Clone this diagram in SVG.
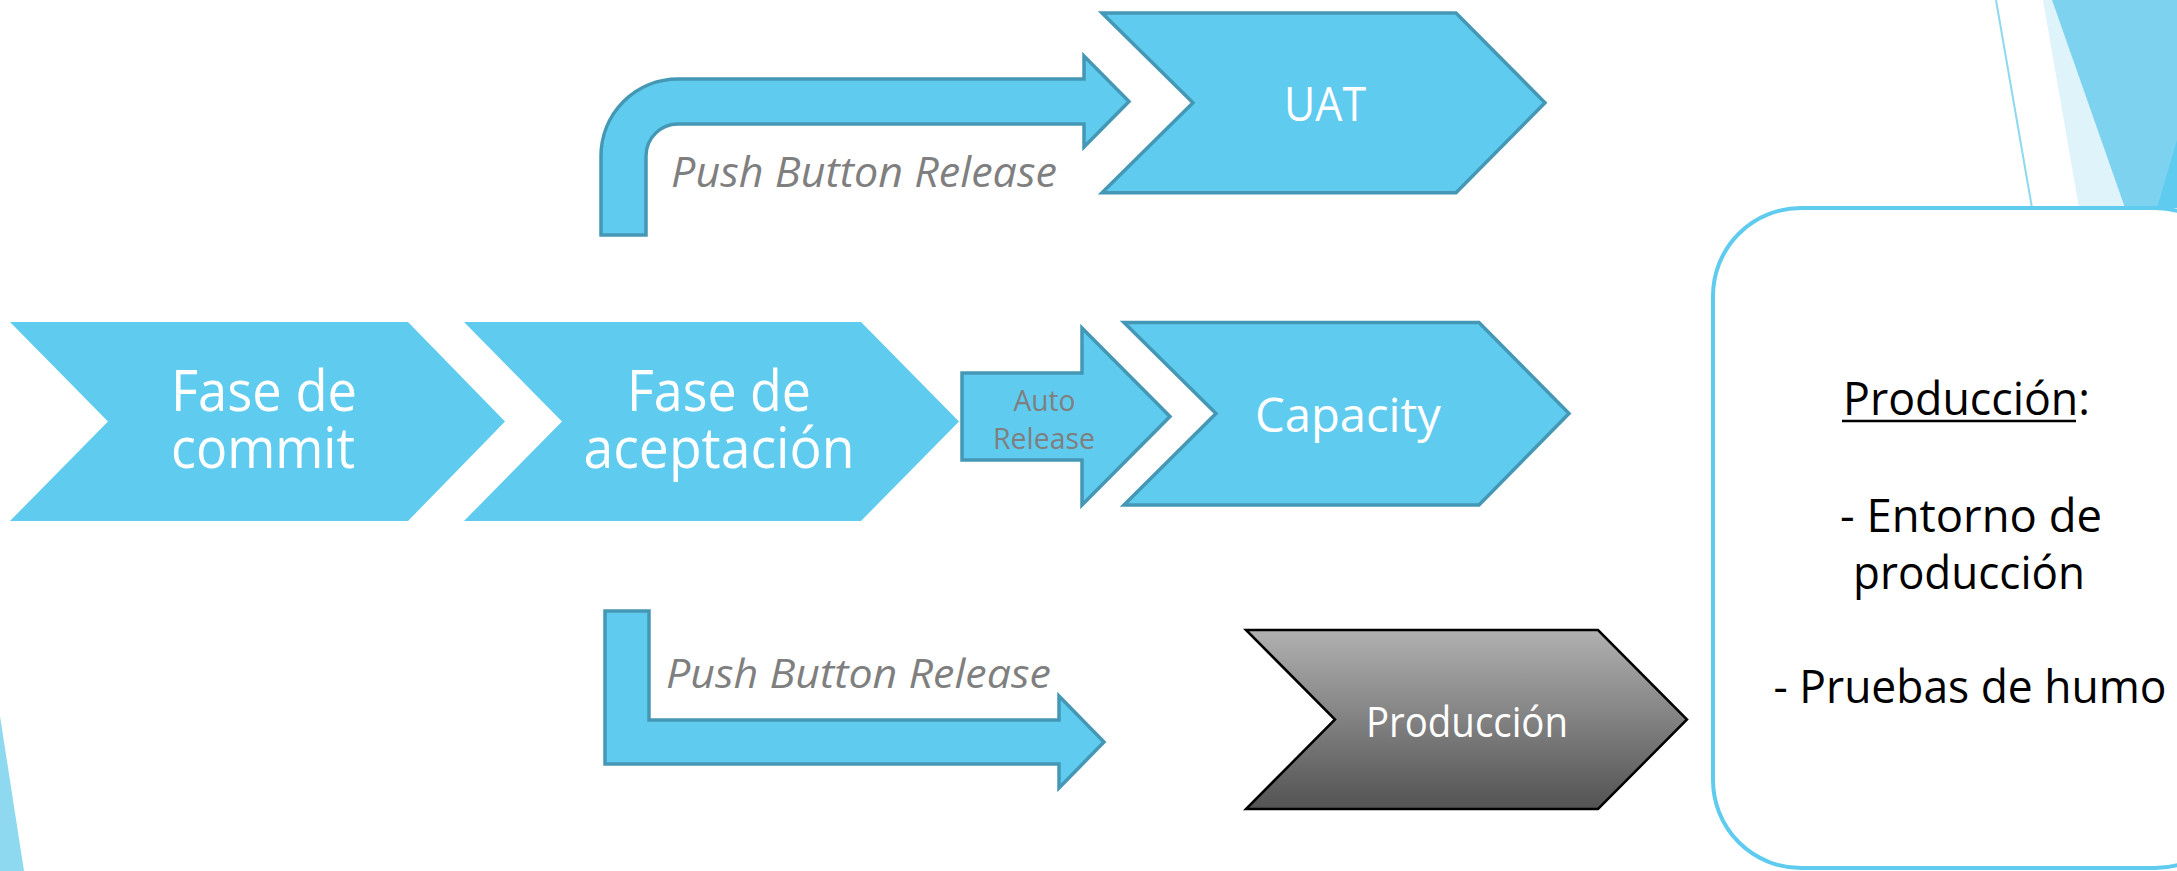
<svg xmlns="http://www.w3.org/2000/svg" width="2177" height="871" viewBox="0 0 2177 871">
  <style>
    .chev { fill: #5FCBEF; }
    .chevs { fill: #5FCBEF; stroke: #4598B5; stroke-width: 3.5; stroke-linejoin: miter; }
    .arrow { fill: #5FCBEF; stroke: #4598B5; stroke-width: 3.5; stroke-linejoin: miter; }
    .wt { fill: #FFFFFF; font-family: "Open Sans", "Liberation Sans", sans-serif; text-anchor: middle; }
    .gt { fill: #7F7F7F; font-family: "Open Sans", "Liberation Sans", sans-serif; }
    .bt { fill: #000000; font-family: "Open Sans", "Liberation Sans", sans-serif; text-anchor: middle; }
  </style>
  <defs>
    <linearGradient id="grey" x1="0" y1="0" x2="0" y2="1">
      <stop offset="0" stop-color="#B0B0B0"/>
      <stop offset="1" stop-color="#535353"/>
    </linearGradient>
  </defs>
  <rect x="0" y="0" width="2177" height="871" fill="#FFFFFF"/>

  <g id="background">
    <polygon points="0,716 24,871 0,871" fill="#8ED8F0"/>
    <line x1="1996" y1="0" x2="2032" y2="208" stroke="#8ED8F0" stroke-width="2"/>
    <polygon points="2043,0 2052,0 2125,208 2079,208" fill="#DFF3FA"/>
    <polygon points="2052,0 2177,0 2177,208 2125,208" fill="#7DD3EF"/>
    <polygon points="2157,208 2177,140 2177,208" fill="#5FCBEF"/>
  </g>

  <g id="connectors">
    <g id="arrow-uat">
      <path class="arrow" d="M601,235 L601,156 A77,77 0 0 1 678,79 L1084,79 L1084,56 L1129,101.5 L1084,147 L1084,124 L678,124 A32,32 0 0 0 646,156 L646,235 Z"/>
      <text class="gt" x="671" y="186.7" font-size="42" font-style="italic" textLength="386" lengthAdjust="spacingAndGlyphs">Push Button Release</text>
    </g>
    <g id="arrow-capacity">
      <path class="arrow" d="M962,373 L1082,373 L1082,328 L1170,416.5 L1082,505 L1082,460 L962,460 Z"/>
      <text class="gt" font-size="29" text-anchor="middle"><tspan x="1044.5" y="411" textLength="62" lengthAdjust="spacingAndGlyphs">Auto</tspan><tspan x="1044" y="449" textLength="102" lengthAdjust="spacingAndGlyphs">Release</tspan></text>
    </g>
    <g id="arrow-produccion">
      <path class="arrow" d="M605,611 L649,611 L649,720 L1059,720 L1059,696 L1104,742 L1059,788 L1059,764 L605,764 Z"/>
      <text class="gt" x="666" y="688.3" font-size="41" font-style="italic" textLength="385" lengthAdjust="spacingAndGlyphs">Push Button Release</text>
    </g>
  </g>

  <g id="node-commit">
    <polygon class="chev" points="10,322 408,322 505,421.5 408,521 10,521 108,421.5"/>
    <text class="wt" font-size="56"><tspan x="264" y="410.7" textLength="186" lengthAdjust="spacingAndGlyphs">Fase de</tspan><tspan x="263" y="468.3" textLength="184" lengthAdjust="spacingAndGlyphs">commit</tspan></text>
  </g>

  <g id="node-aceptacion">
    <polygon class="chev" points="464,322 861,322 959,421.5 861,521 464,521 562,421.5"/>
    <text class="wt" font-size="56"><tspan x="719" y="410.7" textLength="184" lengthAdjust="spacingAndGlyphs">Fase de</tspan><tspan x="719" y="468.3" textLength="271" lengthAdjust="spacingAndGlyphs">aceptación</tspan></text>
  </g>

  <g id="node-uat">
    <polygon class="chevs" points="1102,13 1456,13 1545,102.7 1456,192.7 1102,192.7 1193,102.7"/>
    <text class="wt" x="1325" y="120.7" font-size="47" textLength="82" lengthAdjust="spacingAndGlyphs">UAT</text>
  </g>

  <g id="node-capacity">
    <polygon class="chevs" points="1124,322.5 1479,322.5 1569,413.5 1479,505 1124,505 1216,413.5"/>
    <text class="wt" x="1348" y="431.7" font-size="47" textLength="186" lengthAdjust="spacingAndGlyphs">Capacity</text>
  </g>

  <g id="node-produccion">
    <polygon points="1246,630 1598,630 1687,719.5 1598,809 1246,809 1335,719.5" fill="url(#grey)" stroke="#000000" stroke-width="2.5"/>
    <text class="wt" x="1467" y="736.7" font-size="42" fill="#F5F5F5" textLength="202" lengthAdjust="spacingAndGlyphs">Producción</text>
  </g>

  <g id="node-box">
    <rect x="1713" y="208" width="530" height="660" rx="88" ry="88" fill="#FFFFFF" stroke="#5FCBEF" stroke-width="4"/>
    <text class="bt" font-size="46"><tspan x="1966.5" y="415" textLength="247" lengthAdjust="spacingAndGlyphs">Producción:</tspan><tspan x="1971" y="531.7" textLength="262" lengthAdjust="spacingAndGlyphs">- Entorno de</tspan><tspan x="1969" y="589.3" textLength="232" lengthAdjust="spacingAndGlyphs">producción</tspan><tspan x="1970" y="702.7" textLength="393" lengthAdjust="spacingAndGlyphs">- Pruebas de humo</tspan></text>
    <line x1="1842" y1="421" x2="2076" y2="421" stroke="#000000" stroke-width="2.5"/>
  </g>
</svg>
